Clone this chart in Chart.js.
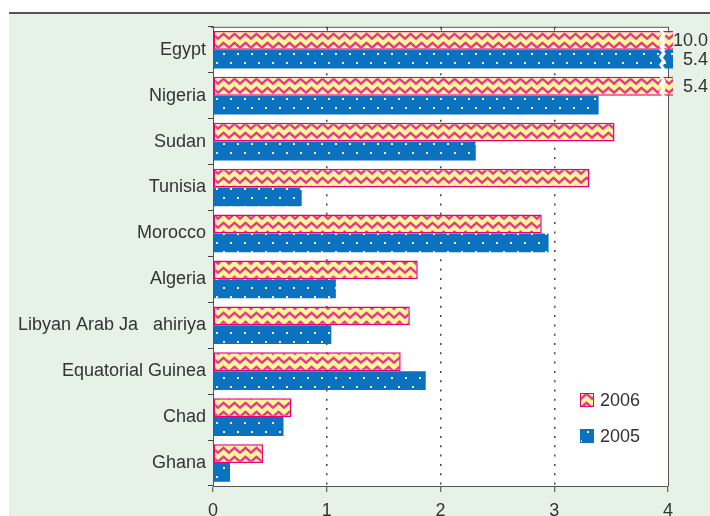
<!DOCTYPE html>
<html>
<head>
<meta charset="utf-8">
<title>Bar chart</title>
<script src="https://cdn.jsdelivr.net/npm/chart.js@4/dist/chart.umd.min.js"></script>
<style>
    html, body { margin: 0; padding: 0; background: #fff; overflow: hidden; }
    #panel {
        position: absolute; left: 9px; top: 12px;
        width: 701px; height: 520px;
        background: #e6f2e6; border-top: 2px solid #555;
    }
</style>
</head>
<body>
<div id="panel"><canvas id="myChart" width="701" height="520"></canvas></div>
<script>
'use strict';

const countries = ['Egypt', 'Nigeria', 'Sudan', 'Tunisia', 'Morocco', 'Algeria',
    'Libyan Arab Ja   ahiriya', 'Equatorial Guinea', 'Chad', 'Ghana'];
const values2006 = [10.0, 5.4, 3.53, 3.31, 2.89, 1.80, 1.73, 1.65, 0.69, 0.44];
const values2005 = [5.4, 3.39, 2.31, 0.78, 2.95, 1.08, 1.04, 1.87, 0.62, 0.15];
const seriesNames = ['2006', '2005'];
const xTicks = [0, 1, 2, 3, 4];
const xMax = 4;

(function () {
    Chart.defaults.font.family = "'Liberation Sans', Arial, sans-serif";
    Chart.defaults.font.size = 18;
    Chart.defaults.color = '#333';

    // 2006: yellow with pink zigzag waves
    function wavePattern() {
        const c = document.createElement('canvas');
        c.width = 11; c.height = 9;
        const g = c.getContext('2d');
        g.fillStyle = '#fff59a';
        g.fillRect(0, 0, 11, 9);
        g.strokeStyle = '#e63b88';
        g.lineWidth = 2.5;
        g.beginPath();
        g.moveTo(-5.5, 1.8);
        g.lineTo(0, 6.6);
        g.lineTo(5.5, 1.8);
        g.lineTo(11, 6.6);
        g.lineTo(16.5, 1.8);
        g.stroke();
        return g.createPattern(c, 'repeat');
    }

    // 2005: blue with small pale dots
    function dotPattern() {
        const c = document.createElement('canvas');
        c.width = 14; c.height = 18;
        const g = c.getContext('2d');
        g.fillStyle = '#0a72c0';
        g.fillRect(0, 0, 14, 18);
        g.fillStyle = '#fffbd2';
        g.fillRect(4, 3, 2, 2);
        g.fillRect(11, 12, 2, 2);
        return g.createPattern(c, 'repeat');
    }

    const fill2006 = wavePattern();
    const fill2005 = dotPattern();

    const framePlugin = {
        id: 'frame',
        beforeDraw(chart) {
            const a = chart.chartArea;
            chart.ctx.save();
            chart.ctx.fillStyle = '#fff';
            chart.ctx.fillRect(a.left, a.top, a.right - a.left, a.bottom - a.top);
            chart.ctx.restore();
        },
        beforeDatasetsDraw(chart) {
            const a = chart.chartArea;
            const ctx = chart.ctx;
            const xs = chart.scales.x;
            ctx.save();
            ctx.strokeStyle = '#555';
            ctx.lineWidth = 1;
            ctx.beginPath();
            ctx.moveTo(a.left - 2, a.top + 0.5);
            ctx.lineTo(a.right + 0.5, a.top + 0.5);
            ctx.lineTo(a.right + 0.5, a.bottom);
            xTicks.forEach(v => {
                const px = Math.round(xs.getPixelForValue(v)) + 0.5;
                ctx.moveTo(px, a.top);
                ctx.lineTo(px, a.top + 4);
            });
            ctx.stroke();
            ctx.restore();
        },
        afterDatasetsDraw(chart) {
            const ctx = chart.ctx;
            const a = chart.chartArea;
            const xs = chart.scales.x;
            const bx = xs.getPixelForValue(3.92);
            ctx.save();
            chart.data.datasets.forEach((ds, di) => {
                const meta = chart.getDatasetMeta(di);
                meta.data.forEach((bar, i) => {
                    const v = ds.data[i];
                    if (v <= xMax) return;
                    const top = bar.y - bar.height / 2 - 1;
                    const bot = bar.y + bar.height / 2 + 1;
                    // white zigzag break
                    ctx.fillStyle = '#fff';
                    ctx.beginPath();
                    let k = 0;
                    for (let y = top; y <= bot; y += 4, k++) {
                        ctx.lineTo(bx + (k % 2 ? 3 : 0), y);
                    }
                    ctx.lineTo(bx + (k % 2 ? 3 : 0), bot);
                    ctx.lineTo(bx + 4 + (k % 2 ? 3 : 0), bot);
                    for (let y = bot; y >= top; y -= 4) {
                        k--;
                        ctx.lineTo(bx + 4 + (k % 2 ? 3 : 0), y);
                    }
                    ctx.closePath();
                    ctx.fill();
                    // value label
                    ctx.fillStyle = '#333';
                    ctx.font = "18px 'Liberation Sans', Arial, sans-serif";
                    ctx.textAlign = 'right';
                    ctx.textBaseline = 'middle';
                    ctx.fillText(v.toFixed(1), a.right + 40, bar.y + 1);
                });
            });
            ctx.restore();
        },
        afterDraw(chart) {
            // legend inside the plot
            const ctx = chart.ctx;
            const fills = [fill2006, fill2005];
            const borders = ['#e4007f', '#0a72c0'];
            const boxX = 571;
            const rows = [379, 415];
            ctx.save();
            seriesNames.forEach((name, i) => {
                ctx.fillStyle = fills[i];
                ctx.fillRect(boxX, rows[i], 14, 14);
                ctx.strokeStyle = borders[i];
                ctx.lineWidth = 1;
                ctx.strokeRect(boxX + 0.5, rows[i] + 0.5, 13, 13);
                ctx.fillStyle = '#333';
                ctx.font = "18px 'Liberation Sans', Arial, sans-serif";
                ctx.textAlign = 'left';
                ctx.textBaseline = 'middle';
                ctx.fillText(name, boxX + 20, rows[i] + 8);
            });
            ctx.restore();
        }
    };

    const config = {
        type: 'bar',
        data: {
            labels: countries,
            datasets: [
                {
                    label: seriesNames[0],
                    data: values2006,
                    backgroundColor: fill2006,
                    borderColor: '#e4007f',
                    borderWidth: 1.5,
                    borderSkipped: false,
                    categoryPercentage: 0.82,
                    barPercentage: 1,
                    clip: {left: 0, top: 0, right: 5, bottom: 0}
                },
                {
                    label: seriesNames[1],
                    data: values2005,
                    backgroundColor: fill2005,
                    borderWidth: 0,
                    categoryPercentage: 0.82,
                    barPercentage: 1,
                    clip: {left: 0, top: 0, right: 5, bottom: 0}
                }
            ]
        },
        options: {
            indexAxis: 'y',
            responsive: false,
            animation: false,
            layout: {
                padding: {left: 0, right: 42, top: 12, bottom: 0}
            },
            plugins: {
                legend: {display: false},
                tooltip: {enabled: false}
            },
            scales: {
                x: {
                    min: 0,
                    max: xMax,
                    afterFit: s => { s.height = 48; },
                    afterBuildTicks: s => { s.ticks = xTicks.map(v => ({value: v})); },
                    ticks: {padding: 8, color: '#333'},
                    grid: {
                        color: c => (c.tick && (c.tick.value === 0 || c.tick.value === xMax)) ? 'rgba(0,0,0,0)' : '#444',
                        lineWidth: 1.5,
                        tickColor: '#444',
                        tickWidth: 1,
                        tickBorderDash: [],
                        tickLength: 6
                    },
                    border: {display: true, color: '#555', width: 1, dash: [2, 7.3]}
                },
                y: {
                    afterFit: s => { s.width = 204; },
                    ticks: {padding: 2, color: '#333'},
                    grid: {
                        drawOnChartArea: false,
                        offset: true,
                        color: '#444',
                        tickLength: 5
                    },
                    border: {display: true, color: '#555', width: 1}
                }
            }
        },
        plugins: [framePlugin]
    };

    const myChart = new Chart(document.getElementById('myChart'), config);
})();
</script>
</body>
</html>
